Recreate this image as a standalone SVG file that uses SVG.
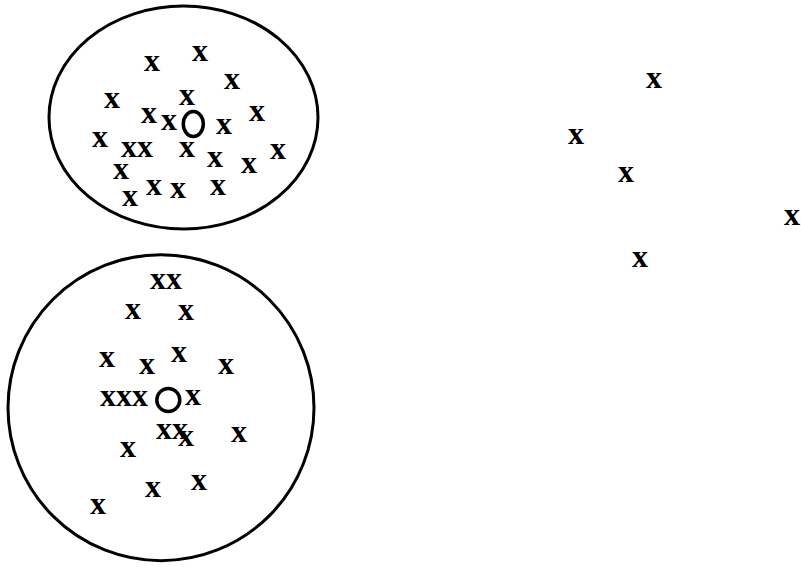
<svg xmlns="http://www.w3.org/2000/svg" width="801" height="568" viewBox="0 0 801 568">
<style>
text{font-family:"Liberation Serif","Times New Roman",serif;font-weight:bold;font-size:32px;fill:#000;text-anchor:middle}
.ring{fill:none;stroke:#000;stroke-width:3}
.c{fill:none;stroke:#000;stroke-width:3.5}
</style>
<rect width="801" height="568" fill="#fff"/>
<g id="cluster1">
<ellipse class="ring" cx="183.5" cy="117.5" rx="134.5" ry="111.5"/>
<ellipse id="centroid1" class="c" cx="193.3" cy="124" rx="10" ry="12.5"/>
<text x="152" y="71">x</text>
<text x="200" y="61">x</text>
<text x="232" y="89">x</text>
<text x="112" y="108">x</text>
<text x="187" y="105">x</text>
<text x="149" y="123">x</text>
<text x="169" y="130">x</text>
<text x="224" y="134">x</text>
<text x="257" y="121">x</text>
<text x="100" y="147">x</text>
<text x="137" y="157">xx</text>
<text x="187" y="157">x</text>
<text x="215" y="167">x</text>
<text x="249" y="173">x</text>
<text x="278" y="159">x</text>
<text x="121" y="179">x</text>
<text x="154" y="195">x</text>
<text x="178" y="198">x</text>
<text x="218" y="195">x</text>
<text x="130" y="206">x</text>
</g>
<g id="cluster2">
<circle class="ring" cx="161" cy="407.7" r="153"/>
<circle id="centroid2" class="c" cx="168.3" cy="400" r="11.5"/>
<text x="166" y="289">xx</text>
<text x="133" y="319">x</text>
<text x="186" y="320">x</text>
<text x="107" y="367">x</text>
<text x="147" y="374">x</text>
<text x="179" y="362">x</text>
<text x="226" y="374">x</text>
<text x="124" y="406">xxx</text>
<text x="193" y="405">x</text>
<text x="172" y="439">xx</text>
<text x="186" y="446">x</text>
<text x="239" y="442">x</text>
<text x="128" y="457">x</text>
<text x="153" y="497">x</text>
<text x="199" y="490">x</text>
<text x="98" y="514">x</text>
</g>
<g id="outliers">
<text x="654" y="88">x</text>
<text x="576" y="144">x</text>
<text x="626" y="182">x</text>
<text x="792" y="225">x</text>
<text x="640" y="267">x</text>
</g>
</svg>
